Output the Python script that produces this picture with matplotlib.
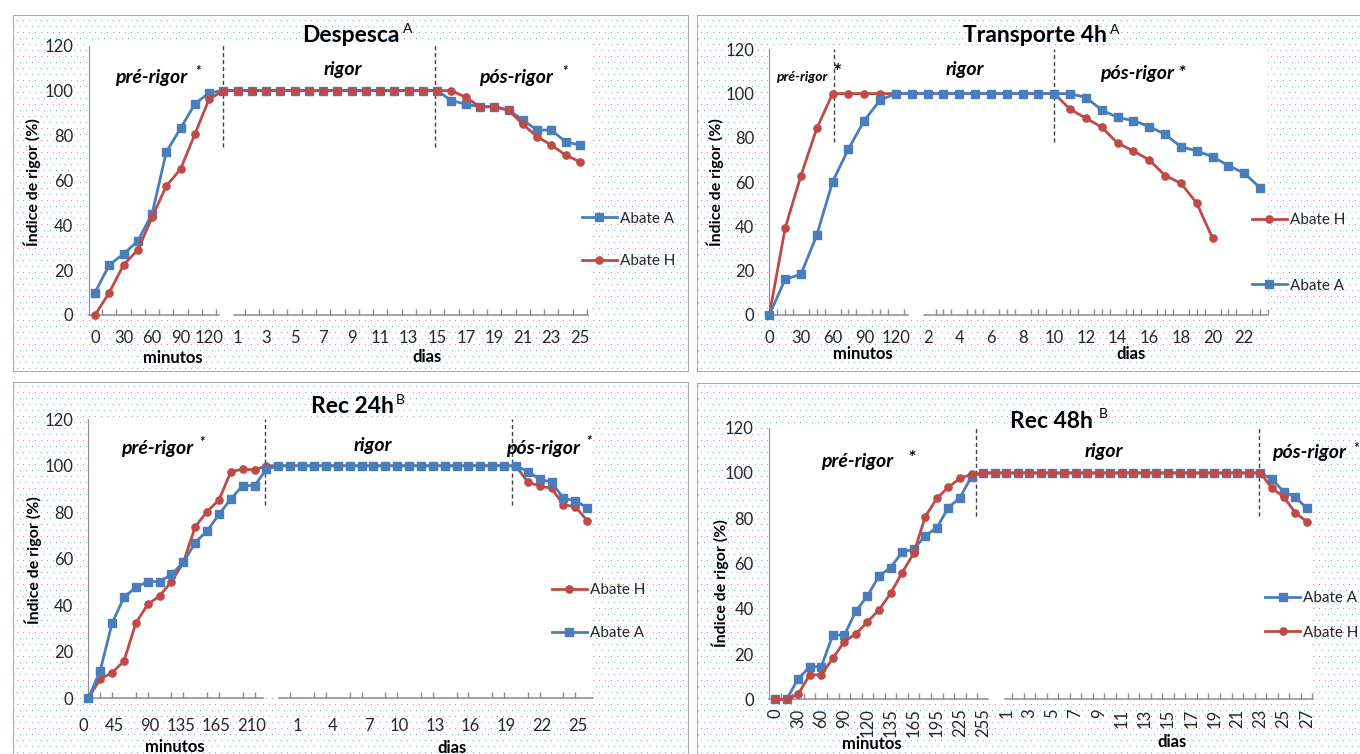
import numpy as np
import matplotlib
matplotlib.use('Agg')
from matplotlib import pyplot as plt

plt.rcParams['font.family'] = ['Lato', 'DejaVu Sans']

W, H = 1360, 754
nan = float('nan')

BLUE = '#4A7EBB'
RED = '#BE4B48'
GRAY = '#8C8C8C'
INK = '#262626'

# ---------------- data ----------------
# Despesca
desp_min = ['0', '15', '30', '45', '60', '75', '90', '105', '120']
desp_dias = [str(d) for d in range(0, 26)]
desp_a = [10, 22.3, 27.2, 33, 45, 72.6, 83.2, 94, 99,
          100, 100, 100, 100, 100, 100, 100, 100, 100, 100, 100, 100, 100, 100, 100, 100,
          95.5, 94, 92.8, 92.8, 91.3, 86.9, 82.4, 82.4, 77.2, 75.7]
desp_h = [0, 10, 22.3, 29, 43.5, 57.5, 65, 80.5, 96.2,
          100, 100, 100, 100, 100, 100, 100, 100, 100, 100, 100, 100, 100, 100, 100, 100,
          100, 97, 92.8, 92.8, 91.3, 85, 79.5, 75.7, 71.3, 68.3]

# Transporte 4h
transp_min = ['0', '15', '30', '45', '60', '75', '90', '105', '120']
transp_dias = [str(d) for d in range(1, 24)]
transp_a = [0, 16.1, 18.4, 36.1, 60.2, 75, 87.8, 97.1, 100,
            100, 100, 100, 100, 100, 100, 100, 100, 100, 100, 100,
            98.2, 92.6, 89.2, 87.8, 85.1, 81.6, 76, 74.1, 71.5, 67.5, 64, 57.5]
transp_h = [0, 39.2, 63, 84.3, 100, 100, 100, 100, 100,
            100, 100, 100, 100, 100, 100, 100, 100, 100, 100,
            92.9, 88.9, 84.8, 77.6, 74.1, 70, 63, 59.5, 50.5, 34.6, nan, nan, nan]

# Rec 24h
rec24_min = ['0', '15', '30', '45', '60', '75', '90', '105', '120', '135', '145',
             '155', '165', '180', '195', '210', '225']
rec24_dias = [str(d) for d in range(0, 26)]
rec24_a = [0, 11.8, 32.3, 43.4, 47.7, 50.2, 50.2, 53.3, 58.4, 67, 72, 79.1, 85.7,
           91.5, 91.5, 98.5, 100,
           100, 100, 100, 100, 100, 100, 100, 100, 100, 100,
           100, 100, 100, 100, 100, 100, 100, 100, 100, 100,
           97.5, 94.2, 92.9, 86, 84.9, 82]
rec24_h = [0, 8.3, 11, 16, 32.3, 40.4, 44, 50.2, 58.4, 73.8, 80.3, 85.3, 97.5,
           98.5, 98.2, 100, 100,
           100, 100, 100, 100, 100, 100, 100, 100, 100, 100,
           100, 100, 100, 100, 100, 100, 100, 100, 100, 100,
           92.9, 91.3, 90.3, 83.2, 82.4, 76.4]

# Rec 48h
rec48_min = ['0', '15', '30', '45', '60', '75', '90', '105', '120', '128', '135',
             '150', '165', '180', '195', '210', '225', '240', '255']
rec48_dias = [str(d) for d in range(0, 28)]
rec48_a = [0, 0, 9, 14.4, 14.4, 28.4, 28.4, 39, 45.7, 54.5, 58.2, 65, 66.3, 72.3,
           75.8, 84.7, 89.1, 98.4, 100,
           100, 100, 100, 100, 100, 100, 100, 100, 100, 100, 100, 100,
           100, 100, 100, 100, 100, 100, 100, 100, 100, 100, 100, 100,
           97.2, 91.8, 89.5, 84.4]
rec48_h = [0, 0, 2.2, 10.8, 10.8, 18.1, 25.5, 28.9, 34.3, 39.5, 46.8, 56, 64.5,
           80.7, 88.8, 93.7, 97.6, 99.4, 100,
           100, 100, 100, 100, 100, 100, 100, 100, 100, 100, 100, 100,
           100, 100, 100, 100, 100, 100, 100, 100, 100, 100, 100, 100,
           93.2, 89.5, 82.5, 78.5]


def fx(px):
    return px / W


def fy(py):
    return 1 - py / H


# ---------------- layout (pixels, origin top-left) ----------------
panels = [
    dict(title='Despesca', sup='A', mins=desp_min, dias=desp_dias, a=desp_a, h=desp_h,
         order=('A', 'H'), frame=(13, 15, 688, 371), ax_px=(88.5, 42, 591.5, 315),
         xlim=(-0.456, 34.82), ytop=121.65,
         segs=[(-0.456, 8.7), (9.74, 34.55)],
         minor=list(np.arange(0.5, 9, 1)) + list(np.arange(10.5, 35, 1)),
         step=2, lstyle='center', pad=11,
         title_xy=(350.8, 35), sup_xy=(407.5, 29),
         phases=[('pré-rigor', 151, 77.3, 14), ('*', 198, 71, 9),
                 ('rigor', 343.3, 70, 14),
                 ('pós-rigor', 516, 77.3, 14), ('*', 565, 71, 9)],
         dash_x=[8.95, 23.85], dash_y=(75, 121),
         xl=[('minutos', 173, 358), ('dias', 426.7, 356.7)], yl=(32.3, 181.7),
         leg=(581.7, 239.8), legsp=1.85),
    dict(title='Transporte 4h', sup='A', mins=transp_min, dias=transp_dias,
         a=transp_a, h=transp_h,
         order=('H', 'A'), frame=(697, 15, 1362, 371), ax_px=(769.3, 47, 1268, 315),
         xlim=(0, 31.46), ytop=121.04,
         segs=[(0, 8.75), (9.76, 31.46)],
         minor=list(np.arange(0.5, 8.75, 0.5)) + list(np.arange(10, 31.6, 0.5)),
         step=2, lstyle='center', pad=11,
         title_xy=(1035, 35.7), sup_xy=(1115, 30),
         phases=[('pré-rigor', 802, 77.3, 10), ('*', 837, 73, 15),
                 ('rigor', 965, 70, 14), ('pós-rigor *', 1143, 74, 14)],
         dash_x=[4.08, 18.0], dash_y=(78, 120),
         xl=[('minutos', 863, 354), ('dias', 1131, 354)], yl=(715, 182.5),
         leg=(1251.7, 253), legsp=3.35),
    dict(title='Rec 24h', sup='B', mins=rec24_min, dias=rec24_dias,
         a=rec24_a, h=rec24_h,
         order=('H', 'A'), frame=(13, 382, 688, 760), ax_px=(88.3, 416.7, 592.7, 698.3),
         xlim=(0, 42.46), ytop=121.1,
         segs=[(0, 14.7), (16.05, 42.46)],
         minor=list(np.arange(1, 15, 1)) + list(np.arange(17, 43, 1)),
         step=3, lstyle='right', pad=14.5,
         title_xy=(352, 406.7), sup_xy=(400, 400),
         phases=[('pré-rigor', 156.7, 448.3, 14), ('*', 201.7, 442, 9),
                 ('rigor', 373, 445, 14),
                 ('pós-rigor', 542.5, 448.3, 14), ('*', 589, 441, 9)],
         dash_x=[14.85, 35.7], dash_y=(83, 120),
         xl=[('minutos', 175, 746.7), ('dias', 451.7, 747.7)], yl=(33.3, 560),
         leg=(551.7, 611.7), legsp=1.9),
    dict(title='Rec 48h', sup='B', mins=rec48_min, dias=rec48_dias,
         a=rec48_a, h=rec48_h,
         order=('A', 'H'), frame=(697, 383, 1362, 760), ax_px=(769, 426.7, 1313.3, 699.3),
         xlim=(-0.52, 46.57), ytop=120.44,
         segs=[(-0.52, 18.4), (19.9, 46.57)],
         minor=list(np.arange(0.5, 18, 1)) + list(np.arange(20.5, 47, 1)),
         step=2, lstyle='rot', pad=6.5,
         title_xy=(1051, 421.7), sup_xy=(1103, 414),
         phases=[('pré-rigor', 857.5, 461.7, 14), ('*', 911, 459, 14),
                 ('rigor', 1104, 451.7, 14),
                 ('pós-rigor', 1309, 452.7, 14), ('*', 1356, 448, 9)],
         dash_x=[17.4, 41.9], dash_y=(81, 120),
         xl=[('minutos', 871.7, 744.3), ('dias', 1171.7, 741.7)], yl=(720.7, 583),
         leg=(1265, 615.4), legsp=1.35),
]

fig = plt.figure(figsize=(W / 100, H / 100), dpi=100)

# dotted panel background with grey frames
bg = np.ones((H, W, 3))
yy, xx = np.mgrid[0:H, 0:W]
dots = (yy % 6 == 2) & ((xx + 3 * ((yy // 6) % 2)) % 6 == 2)
for p in panels:
    x0, y0, x1, y1 = p['frame']
    inside = (xx > x0) & (xx < x1) & (yy > y0) & (yy < y1)
    bg[inside & dots] = (0.52, 0.66, 0.87)
    edge = ((xx == x0) | (xx == x1)) & (yy >= y0) & (yy <= y1)
    edge |= ((yy == y0) | (yy == y1)) & (xx >= x0) & (xx <= x1)
    bg[edge] = (0.66, 0.66, 0.66)
fig.figimage(bg, xo=0, yo=0, origin='upper', zorder=-1)

series_style = {'A': (BLUE, 's', 5.4), 'H': (RED, 'o', 5.2)}

for p in panels:
    l, t, r, b = p['ax_px']
    ax = fig.add_axes([fx(l), fy(b), (r - l) / W, (b - t) / H])
    ax.set_facecolor('white')
    cats = p['mins'] + p['dias']
    x = np.arange(len(cats))
    vals = {'A': p['a'], 'H': p['h']}
    for key in p['order']:
        color, mk, ms = series_style[key]
        ax.plot(x, np.array(vals[key], dtype=float), color=color, lw=2.0,
                marker=mk, ms=ms, label='Abate ' + key, clip_on=False, zorder=3)

    ax.set_xlim(*p['xlim'])
    ax.set_ylim(0, p['ytop'])

    for side in ('top', 'right', 'bottom'):
        ax.spines[side].set_visible(False)
    ax.spines['left'].set_color(GRAY)
    ax.spines['left'].set_bounds(0, 120)
    for s0, s1 in p['segs']:
        ax.plot([s0, s1], [0, 0], color=GRAY, lw=1.1, clip_on=False, zorder=2)

    ax.set_yticks(range(0, 121, 20))
    ax.tick_params(axis='y', length=0, pad=11, labelsize=12, labelcolor=INK)

    idx = list(range(0, len(cats), p['step']))
    ax.set_xticks(idx, [cats[i] for i in idx])
    ax.set_xticks(p['minor'], minor=True)
    ax.tick_params(axis='x', which='major', length=0, pad=p['pad'],
                   labelsize=12, labelcolor=INK)
    ax.tick_params(axis='x', which='minor', direction='in', length=4,
                   width=1, color=GRAY)
    for lbl in ax.get_xticklabels():
        if p['lstyle'] == 'right':
            lbl.set_ha('right')
        elif p['lstyle'] == 'rot':
            lbl.set_rotation(90)

    ax.vlines(p['dash_x'], p['dash_y'][0], p['dash_y'][1], colors='#404040',
              linestyles=(0, (3, 2)), lw=1, clip_on=False, zorder=2)

    lx, ly = p['leg']
    leg = ax.legend(loc='center left', bbox_to_anchor=(fx(lx), fy(ly)),
                    bbox_transform=fig.transFigure, frameon=False, fontsize=11,
                    handlelength=2.3, handletextpad=0.2, labelspacing=p['legsp'],
                    borderpad=0, borderaxespad=0)
    for txt in leg.get_texts():
        txt.set_color(INK)

    tx, ty = p['title_xy']
    fig.text(fx(tx), fy(ty), p['title'], ha='center', va='center',
             fontsize=16.5, fontweight='bold', color='black')
    sx, sy = p['sup_xy']
    fig.text(fx(sx), fy(sy), p['sup'], ha='center', va='center',
             fontsize=10, color='black')

    for txt, px, py, size in p['phases']:
        fig.text(fx(px), fy(py), txt, ha='center', va='center', fontsize=size,
                 fontweight='bold', style='italic', color='black')

    for txt, px, py in p['xl']:
        fig.text(fx(px), fy(py), txt, ha='center', va='center', fontsize=12,
                 fontweight='bold', color='black')
    yx, yy_ = p['yl']
    fig.text(fx(yx), fy(yy_), 'Índice de rigor (%)', ha='center', va='center',
             rotation=90, fontsize=11.5, fontweight='bold', color='black')

fig.savefig('out.png', dpi=100)
